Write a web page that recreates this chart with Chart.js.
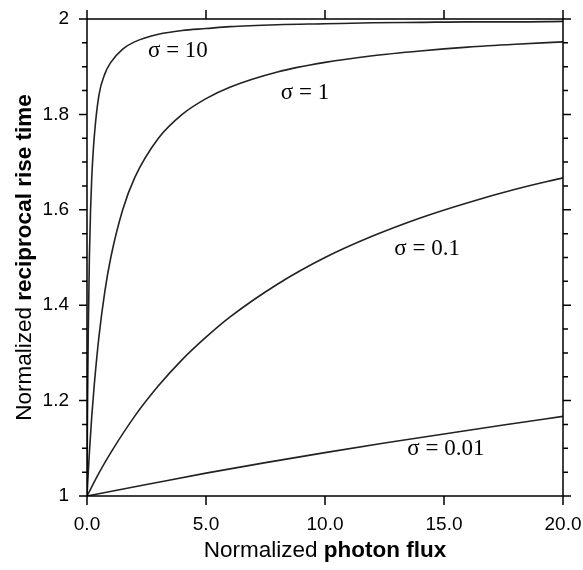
<!DOCTYPE html>
<html>
<head>
<meta charset="utf-8">
<script src="https://cdn.jsdelivr.net/npm/chart.js@4/dist/chart.umd.min.js"></script>
<style>
html,body{margin:0;padding:0;background:#fff;}
#wrap{width:583px;height:570px;}
</style>
</head>
<body>
<div id="wrap"><canvas id="c" width="583" height="570"></canvas></div>
<script>
// Values
const sigmaLabels = ["σ = 10", "σ = 1", "σ = 0.1", "σ = 0.01"];
const xS10  = [0, 0.02, 0.05, 0.1, 0.15, 0.2, 0.3, 0.5, 0.75, 1, 1.5, 2, 3, 4, 5, 6, 8, 10, 12, 14, 16, 18, 20];
const yS10  = [1, 1.17, 1.33, 1.50, 1.60, 1.667, 1.75, 1.84, 1.885, 1.909, 1.937, 1.952, 1.968, 1.976, 1.980, 1.984, 1.988, 1.990, 1.992, 1.993, 1.994, 1.994, 1.995];
const xS1   = [0, 0.1, 0.2, 0.3, 0.5, 0.75, 1, 1.5, 2, 3, 4, 5, 6, 8, 10, 12, 14, 16, 18, 20];
const yS1   = [1, 1.091, 1.167, 1.23, 1.333, 1.429, 1.50, 1.60, 1.667, 1.75, 1.80, 1.833, 1.857, 1.889, 1.909, 1.923, 1.933, 1.941, 1.947, 1.952];
const xS01  = [0, 0.5, 1, 2, 3, 4, 5, 6, 8, 10, 12, 14, 16, 18, 20];
const yS01  = [1, 1.048, 1.091, 1.167, 1.231, 1.286, 1.333, 1.375, 1.444, 1.50, 1.545, 1.583, 1.615, 1.643, 1.667];
const xS001 = [0, 2.5, 5, 7.5, 10, 12.5, 15, 17.5, 20];
const yS001 = [1, 1.024, 1.048, 1.070, 1.091, 1.111, 1.130, 1.149, 1.167];
// label anchor positions (data units)
const labelX = [3.82, 9.16, 14.29, 15.08];
const labelY = [1.933, 1.845, 1.518, 1.099];
const xTicks = [0, 5, 10, 15, 20];
const yMajor = [1, 1.2, 1.4, 1.6, 1.8, 2];

function pts(xs, ys){ return xs.map((x,i)=>({x:x, y:ys[i]})); }
const series = [[xS10,yS10],[xS1,yS1],[xS01,yS01],[xS001,yS001]];

const framePlugin = {
  id: 'frame',
  afterDraw(chart){
    const ctx = chart.ctx, a = chart.chartArea;
    const xs = chart.scales.x, ys = chart.scales.y;
    ctx.save();
    ctx.strokeStyle = '#000';
    ctx.lineWidth = 1.5;
    ctx.beginPath();
    ctx.rect(a.left, a.top, a.right - a.left, a.bottom - a.top);
    ctx.stroke();
    ctx.beginPath();
    for (let i = 0; i <= 20; i++) {
      const v = 1 + i * 0.05;
      const py = ys.getPixelForValue(v);
      const len = (i % 4 === 0) ? 8 : 5;
      ctx.moveTo(a.left - len, py); ctx.lineTo(a.left, py);
      ctx.moveTo(a.right, py); ctx.lineTo(a.right + len, py);
    }
    xTicks.forEach(v => {
      const px = xs.getPixelForValue(v);
      ctx.moveTo(px, a.bottom); ctx.lineTo(px, a.bottom + 9);
      ctx.moveTo(px, a.top - 9); ctx.lineTo(px, a.top);
    });
    ctx.stroke();

    ctx.fillStyle = '#000';
    ctx.font = '23px "Liberation Serif", "DejaVu Serif", serif';
    ctx.textAlign = 'center';
    ctx.textBaseline = 'middle';
    sigmaLabels.forEach((t, i) => {
      ctx.fillText(t, xs.getPixelForValue(labelX[i]), ys.getPixelForValue(labelY[i]));
    });

    const normalFont = '22.5px "Liberation Sans", Arial, sans-serif';
    const boldFont = 'bold 22.5px "Liberation Sans", Arial, sans-serif';
    function mixed(parts, cx, cy){
      let total = 0;
      parts.forEach(p => { ctx.font = p[1] ? boldFont : normalFont; total += ctx.measureText(p[0]).width; });
      let x = cx - total / 2;
      ctx.textAlign = 'left';
      parts.forEach(p => { ctx.font = p[1] ? boldFont : normalFont; ctx.fillText(p[0], x, cy); x += ctx.measureText(p[0]).width; });
    }
    ctx.fillStyle = '#000';
    ctx.textBaseline = 'middle';
    mixed([["Normalized ", false], ["photon flux", true]], (a.left + a.right) / 2, 551);
    ctx.save();
    ctx.translate(25, (a.top + a.bottom) / 2);
    ctx.rotate(-Math.PI / 2);
    mixed([["Normalized ", false], ["reciprocal rise time", true]], 0, 0);
    ctx.restore();
    ctx.restore();
  }
};

function zeroPad(s){ s.paddingTop = 0; s.paddingBottom = 0; s.paddingLeft = 0; s.paddingRight = 0; }

new Chart(document.getElementById('c'), {
  type: 'scatter',
  data: {
    datasets: series.map((s, i) => ({
      label: sigmaLabels[i],
      data: pts(s[0], s[1]),
      showLine: true,
      borderColor: '#222',
      borderWidth: 1.6,
      pointRadius: 0,
      fill: false,
      cubicInterpolationMode: 'monotone'
    }))
  },
  options: {
    responsive: false,
    animation: false,
    layout: { padding: { left: 0, top: 19, right: 20, bottom: 0 } },
    plugins: { legend: { display: false }, tooltip: { enabled: false } },
    scales: {
      x: {
        type: 'linear', min: 0, max: 20,
        afterFit(s){ s.height = 74; zeroPad(s); },
        afterBuildTicks(s){ s.ticks = xTicks.map(v => ({value: v})); },
        ticks: {
          callback: v => Number(v).toFixed(1),
          color: '#000',
          font: { family: '"Liberation Sans", Arial, sans-serif', size: 19 },
          padding: 17,
          maxRotation: 0
        },
        grid: { display: true, drawOnChartArea: false, drawTicks: false },
        border: { display: false }
      },
      y: {
        type: 'linear', min: 1, max: 2,
        afterFit(s){ s.width = 87; zeroPad(s); },
        afterBuildTicks(s){ s.ticks = yMajor.map(v => ({value: v})); },
        ticks: {
          callback: v => String(Math.round(v * 10) / 10),
          color: '#000',
          font: { family: '"Liberation Sans", Arial, sans-serif', size: 19 },
          padding: 18
        },
        grid: { display: true, drawOnChartArea: false, drawTicks: false },
        border: { display: false }
      }
    }
  },
  plugins: [framePlugin]
});
</script>
</body>
</html>
